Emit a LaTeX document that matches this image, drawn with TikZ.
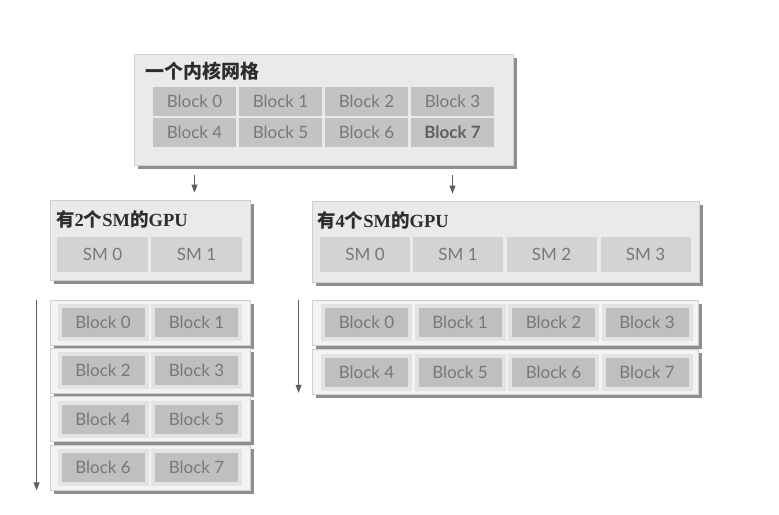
\documentclass[tikz,border=0pt]{standalone}
\usepackage{fontspec}
\setmainfont{Liberation Serif}
\newfontfamily\cjk{Noto Sans CJK SC}
\newfontfamily\blk{Lato}
\usetikzlibrary{arrows.meta,shadows}
\definecolor{boxfill}{HTML}{E9EBEB}
\definecolor{boxdraw}{HTML}{D0D0D0}
\definecolor{shadowc}{HTML}{8E8E8E}
\definecolor{gridcell}{HTML}{C3C3C3}
\definecolor{smcell}{HTML}{D3D3D3}
\definecolor{framec}{HTML}{E3E3E3}
\definecolor{innerc}{HTML}{BFBFBF}
\definecolor{txtc}{HTML}{787878}
\definecolor{titlec}{HTML}{2E2E2E}
\definecolor{arrc}{HTML}{606060}
\tikzset{
  panel/.style={draw=boxdraw, fill=boxfill, line width=0.8pt, inner sep=0pt,
    general shadow={fill=shadowc, shadow xshift=3.5pt, shadow yshift=-3.5pt}},
  strip/.style={draw=boxdraw, fill=boxfill!60!white, line width=0.8pt, inner sep=0pt,
    general shadow={fill=shadowc, shadow xshift=3.5pt, shadow yshift=-3.5pt}},
  gcell/.style={fill=gridcell, minimum width=83pt, minimum height=29pt, inner sep=0pt,
    text=txtc, font=\blk\fontsize{17}{17}\selectfont},
  smbox/.style={fill=smcell, minimum width=90pt, minimum height=35pt, inner sep=0pt,
    text=txtc, font=\blk\fontsize{17}{17}\selectfont},
  fbox/.style={fill=framec, minimum width=91pt, minimum height=37pt, inner sep=0pt},
  ibox/.style={fill=innerc, minimum width=83pt, minimum height=29pt, inner sep=0pt,
    text=txtc, font=\blk\fontsize{17}{17}\selectfont},
  ttl/.style={anchor=west, inner sep=0pt, text=titlec, font=\bfseries\fontsize{18.5}{18.5}\selectfont},
  arr/.style={draw=arrc, line width=0.9pt, -{Triangle[length=8pt,width=6pt]}}
}
\begin{document}
\begin{tikzpicture}[x=1pt,y=-1pt]
\useasboundingbox[fill=white] (0,0) rectangle (779,514);

% kernel grid
\node[panel, minimum width=379pt, minimum height=111pt] (grid) at (323.5,109.5) {};
\node[ttl, font=\bfseries\fontsize{19}{19}\selectfont] (gridt) at (145,71) {\cjk 一个内核网格};
\foreach \i/\x in {0/194.5,1/280.5,2/366.5,3/452.5}{
  \node[gcell] (g\i) at (\x,101.5) {Block \i};
}
\foreach \i/\x in {4/194.5,5/280.5,6/366.5}{
  \node[gcell] (g\i) at (\x,132.5) {Block \i};
}
\node[gcell, text=black!62, font=\blk\bfseries\fontsize{17}{17}\selectfont] (g7) at (452.5,132.5) {Block 7};

% GPU with 2 SMs
\node[panel, minimum width=200pt, minimum height=80pt] (gpu2) at (150,240) {};
\node[ttl] (gpu2t) at (56,219) {{\cjk 有}2{\cjk 个}SM{\cjk 的}GPU};
\node[smbox, minimum width=91pt] (a0) at (102.5,254.5) {SM 0};
\node[smbox, minimum width=91pt] (a1) at (196.5,254.5) {SM 1};

% GPU with 4 SMs
\node[panel, minimum width=387pt, minimum height=81pt] (gpu4) at (505.5,241.5) {};
\node[ttl] (gpu4t) at (317,220) {{\cjk 有}4{\cjk 个}SM{\cjk 的}GPU};
\foreach \i/\x in {0/365,1/458,2/551.5,3/645.5}{
  \node[smbox] (b\i) at (\x,254.5) {SM \i};
}

% arrows from grid
\draw[arr] ([yshift=-10pt]grid.south -| g4.south) -- ([yshift=7pt]gpu2.north -| g4.south);
\draw[arr] ([yshift=-10pt]grid.south -| g7.south) -- ([yshift=7pt]gpu4.north -| g7.south);

% left rows
\foreach \r/\y/\p/\q in {0/322.5/0/1,1/370.5/2/3,2/419/4/5,3/467.5/6/7}{
  \node[strip, minimum width=200pt, minimum height=45pt] (lr\r) at (150,\y) {};
  \node[fbox] (lf\p) at (103,\y) {};
  \node[ibox] (li\p) at (103,\y) {Block \p};
  \node[fbox] (lf\q) at (196.5,\y) {};
  \node[ibox] (li\q) at (196.5,\y) {Block \q};
}
\draw[arr] ([xshift=-13pt]lr0.north west) -- ([xshift=-13pt]lr3.south west);

% right rows
\foreach \r/\y/\a/\b/\c/\d in {0/322.5/0/1/2/3,1/372/4/5/6/7}{
  \node[strip, minimum width=386pt, minimum height=45pt] (rr\r) at (505,\y) {};
  \foreach \n/\x in {\a/366.5,\b/460,\c/553.5,\d/647}{
    \node[fbox] (rf\n) at (\x,\y) {};
    \node[ibox] (ri\n) at (\x,\y) {Block \n};
  }
}
\draw[arr] ([xshift=-13pt]rr0.north west) -- ([xshift=-13pt,yshift=2pt]rr1.south west);
\end{tikzpicture}
\end{document}
